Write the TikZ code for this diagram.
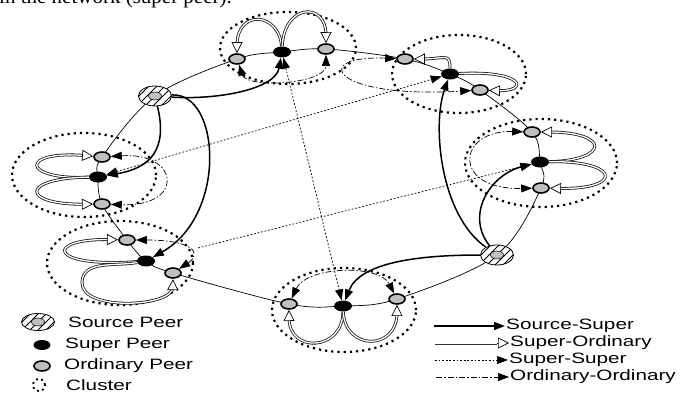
\documentclass[tikz,border=0pt]{standalone}
\usepackage{fontspec}
\usepackage{graphicx}
\newfontfamily\lsans{Liberation Sans}
\newfontfamily\lserif{Liberation Serif}
\usetikzlibrary{arrows.meta,shapes.geometric,decorations.markings,calc}
\pgfdeclarelayer{bg}
\pgfsetlayers{bg,main}
\tikzset{
 ordp/.style={ellipse, draw=black, line width=1.6pt, fill=black!25, minimum width=16pt, minimum height=10pt, inner sep=0pt},
 supp/.style={ellipse, fill=black, minimum width=18pt, minimum height=11pt, inner sep=0pt},
 srcp/.style={ellipse, draw=black, line width=0.8pt, fill=white, minimum width=33pt, minimum height=20pt, inner sep=0pt,
   path picture={\foreach \k in {-3,...,3}{\draw[line width=0.8pt] ([xshift={\k*8pt-20pt},yshift=-20pt]path picture bounding box.center) -- ++(40pt,40pt);}}},
 srcin/.style={ellipse, draw=black, line width=0.6pt, fill=black!25, minimum width=13pt, minimum height=8pt, inner sep=0pt},
 clus/.style={line width=2.2pt, dash pattern=on 2.2pt off 4pt},
 ringline/.style={line width=0.7pt},
 blk/.style={-{Triangle[length=11pt,width=8pt]}},
 blktwo/.style={{Triangle[length=11pt,width=8pt]}-{Triangle[length=11pt,width=8pt]}},
 srcsup/.style={line width=1.5pt, blk},
 supsup/.style={line width=0.7pt, dash pattern=on 1.8pt off 1.8pt},
 ordord/.style={line width=0.7pt, dash pattern=on 6pt off 2pt on 1.5pt off 2pt},
 dbl/.style={draw=black!90, line width=0.8pt, double=white, double distance=1.3pt},
 opentip/.style={line width=0.7pt, -{Triangle[length=11pt,width=11pt,fill=white]}},
 supord/.style={dbl, shorten >=8pt,
   postaction={decorate, decoration={markings, mark=at position 0.998 with {\arrow[line width=0.7pt, black]{Triangle[length=11pt,width=11pt,fill=white]}}}}},
 lab/.style={font=\lsans\fontsize{15}{15}\selectfont, inner sep=1pt, anchor=west},
}
\newcommand{\wide}[1]{\scalebox{1.38}[1]{#1}}
\begin{document}
\begin{tikzpicture}[x=1pt,y=1pt]
\useasboundingbox (0,0) rectangle (685,-393);
\begin{pgfonlayer}{bg}
\fill[white] (0,0) rectangle (685,-393);
\end{pgfonlayer}

% caption fragment
\node[anchor=base west, inner sep=0pt, font=\lserif\fontsize{21}{21}\selectfont] (cap) at (-1,-4) {in the network (super peer).};

% source peers
\node[srcp] (SL) at (155,-96) {};
\node[srcin] (SLi) at (SL.center) {};
\node[srcp] (SR) at (497,-255) {};
\node[srcin] (SRi) at (SR.center) {};

% top cluster
\node[ordp] (tO1) at (237,-59) {};
\node[supp] (tS) at (282,-52) {};
\node[ordp] (tO2) at (326,-49) {};
% top-right cluster
\node[ordp] (trO1) at (405,-59) {};
\node[supp] (trS) at (450,-74) {};
\node[ordp] (trO2) at (480,-90) {};
% right cluster
\node[ordp] (rO1) at (532,-132) {};
\node[supp] (rS) at (540,-162) {};
\node[ordp] (rO2) at (541,-188) {};
% left cluster
\node[ordp] (lO1) at (102,-157) {};
\node[supp] (lS) at (98,-177) {};
\node[ordp] (lO2) at (102,-204) {};
% lower-left cluster
\node[ordp] (llO1) at (127,-240) {};
\node[supp] (llS) at (146,-261) {};
\node[ordp] (llO2) at (173,-273) {};
% bottom cluster
\node[ordp] (bO1) at (289,-304) {};
\node[supp] (bS) at (343,-306) {};
\node[ordp] (bO2) at (397,-299) {};

\begin{pgfonlayer}{bg}
\draw[ringline] plot[smooth cycle, tension=0.55] coordinates {(SL.center) (tO1.center) (tS.center) (tO2.center) (trO1.center) (trS.center) (trO2.center) (rO1.center) (rS.center) (rO2.center) (SR.center) (bO2.center) (bS.center) (bO1.center) (llO2.center) (llS.center) (llO1.center) (lO2.center) (lS.center) (lO1.center)};
\draw[clus] (288,-48) ellipse [x radius=68pt, y radius=36pt];
\draw[clus] (459,-74) ellipse [x radius=67pt, y radius=39pt];
\draw[clus] (541,-163) ellipse [x radius=76pt, y radius=44pt];
\draw[clus] (84,-175) ellipse [x radius=72pt, y radius=42pt];
\draw[clus] (120,-263) ellipse [x radius=73pt, y radius=42pt];
\draw[clus] (344,-310) ellipse [x radius=72pt, y radius=42pt];
\end{pgfonlayer}

% source-super
\draw[srcsup] (SL) .. controls (215,-100) and (275,-90) .. (tS);
\draw[srcsup] (SL) .. controls (168,-150) and (150,-168) .. (lS);
\draw[srcsup] (SL) .. controls (220,-92) and (228,-215) .. (llS);
\draw[srcsup] (SR) .. controls (420,-255) and (360,-262) .. (bS);
\draw[srcsup] (SR) .. controls (440,-215) and (432,-125) .. (trS);
\draw[srcsup] (SR) .. controls (465,-215) and (490,-175) .. (rS);

% super-super
\draw[supsup, blktwo] (tS) -- (bS);
\draw[supsup, blktwo] (lS) -- (trS);
\draw[supsup, blk, shorten <=45pt] (llS) -- (rS);

% ordinary-ordinary
\draw[ordord, blktwo] (tO1) .. controls +(10,-30) and +(0,-35) .. (tO2);
\draw[ordord, blktwo] (trO1) .. controls +(-95,4) and +(-150,-9) .. (trO2);
\draw[ordord, blktwo] (rO1) .. controls +(-75,2) and +(-90,-2) .. (rO2);
\draw[ordord, blktwo] (lO1) .. controls +(78,5) and +(83,-3) .. (lO2);
\draw[ordord, blktwo] (llO1) .. controls +(65,0) and +(30,20) .. (llO2);
\draw[ordord, blktwo] (bO1) .. controls +(18,38) and +(-18,35) .. (bO2);

% super-ordinary
\draw[supord] (tS) .. controls +(-3,40) and +(0,50) .. (tO1);
\draw[supord] (tS) .. controls +(2,48) and +(0,48) .. (tO2);
\draw[supord] (trS) .. controls +(0,22) and +(40,0) .. (trO1);
\draw[supord] (trS) .. controls +(75,4) and +(50,-2) .. (trO2);
\draw[supord] (rS) .. controls +(70,2) and +(78,0) .. (rO1);
\draw[supord] (rS) .. controls +(80,2) and +(84,-2) .. (rO2);
\draw[supord] (lS) .. controls +(-78,-3) and +(-82,7) .. (lO1);
\draw[supord] (lS) .. controls +(-78,-1) and +(-82,-1) .. (lO2);
\draw[supord] (llS) .. controls +(-100,-7) and +(-82,2) .. (llO1);
\coordinate (llw) at (82,-283);
\draw[supord] (llS) to[out=190,in=90] (llw) to[out=-90,in=-90,looseness=0.8] (llO2);
\draw[supord] (bS) .. controls +(0,-45) and +(0,-50) .. (bO1);
\draw[supord] (bS) .. controls +(2,-45) and +(0,-52) .. (bO2);

% legend left
\node[srcp, minimum height=17pt] (lgsrc) at (38,-322) {};
\node[srcin] (lgsrci) at (lgsrc.center) {};
\node[lab] (lt1) at (67,-322) {\wide{Source Peer}};
\node[supp, minimum width=17pt, minimum height=10pt] (lgsup) at (42,-345) {};
\node[lab] (lt2) at (64,-345) {\wide{Super Peer}};
\node[ordp] (lgord) at (42,-366) {};
\node[lab] (lt3) at (63,-366) {\wide{Ordinary Peer}};
\node[circle, draw, line width=1.8pt, dash pattern=on 2pt off 3.2pt, minimum size=12pt, inner sep=0pt] (lgclu) at (39,-385) {};
\node[lab] (lt4) at (65,-385) {\wide{Cluster}};

% legend right
\coordinate (la1) at (434,-326);
\coordinate (la2) at (435,-343);
\coordinate (la2b) at (497,-343);
\coordinate (la3) at (435,-360);
\coordinate (la4) at (436,-377);
\node[lab] (rt1) at (505,-326) {\wide{Source-Super}};
\node[lab] (rt2) at (509,-343) {\wide{Super-Ordinary}};
\node[lab] (rt3) at (508,-360) {\wide{Super-Super}};
\node[lab] (rt4) at (509,-377) {\wide{Ordinary-Ordinary}};
\draw[srcsup] (la1) -- (rt1.west);
\draw[line width=3pt, black!80] (la2) -- (la2b);
\draw[line width=1.3pt, white] (la2) -- (la2b);
\draw[opentip] ([xshift=-12pt]rt2.west) -- (rt2.west);
\draw[supsup, blk] (la3) -- (rt3.west);
\draw[ordord, blk] (la4) -- (rt4.west);
\end{tikzpicture}
\end{document}
